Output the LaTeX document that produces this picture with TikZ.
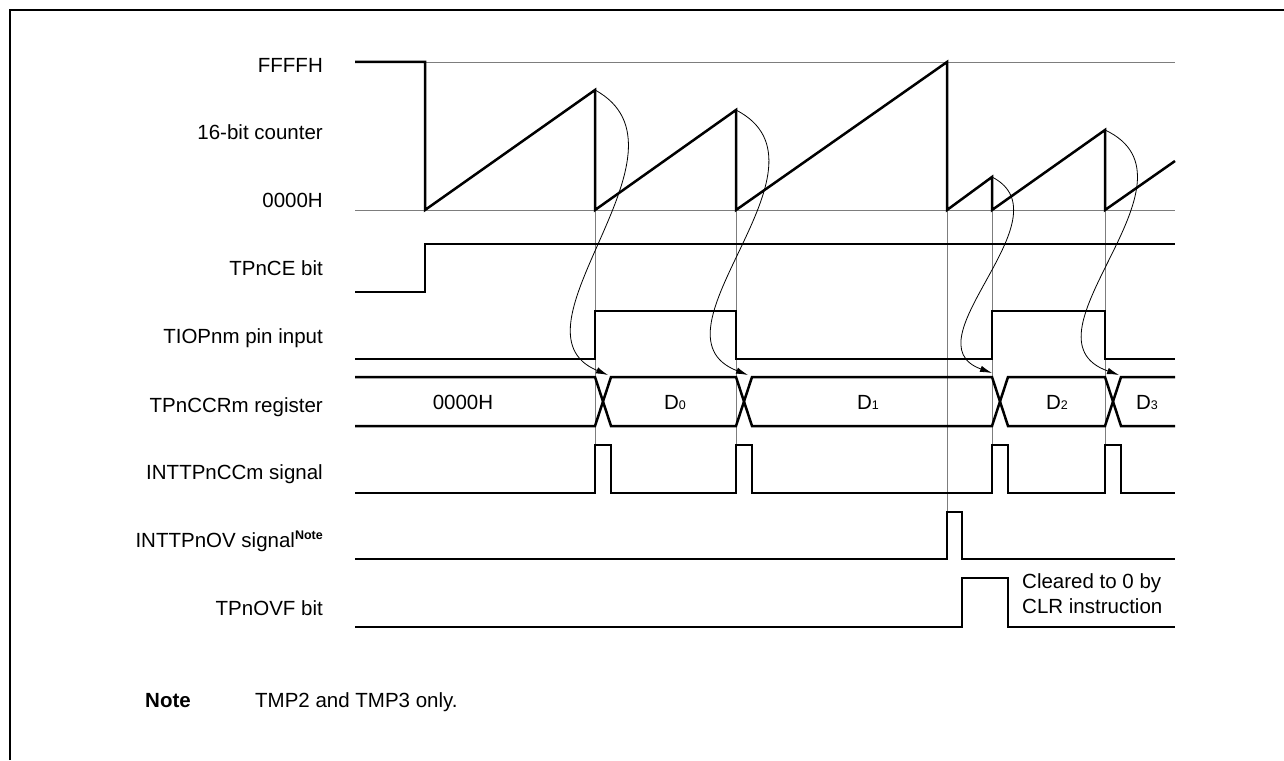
\documentclass[tikz,border=0pt]{standalone}
\usepackage{fontspec}
\setmainfont{Liberation Sans}
\usepackage{tikz}
\usetikzlibrary{arrows.meta}
\definecolor{ink}{RGB}{0,0,0}
\definecolor{rule}{RGB}{125,125,125}
\newcommand{\lblfont}{\fontsize{20.5}{24}\selectfont}
\newcommand{\dsub}[1]{{\fontsize{12.5}{13}\selectfont #1}}
\newcommand{\notemark}{\raisebox{8pt}{\fontsize{12.5}{13}\selectfont\bfseries Note}}
\tikzset{
  sig/.style      ={line width=2.5pt, color=ink, line join=miter},
  guide/.style    ={line width=0.9pt, color=rule},
  capt/.style     ={-{Latex[length=12pt,width=6.5pt]}, line width=0.8pt, color=ink},
  rowlabel/.style ={anchor=base east, font=\lblfont, inner sep=0pt},
  busval/.style   ={anchor=base, font=\lblfont, inner sep=0pt},
  notetext/.style ={anchor=base west, font=\lblfont, inner sep=0pt, align=left},
  frameline/.style={line width=2.4pt, color=ink},
}

\begin{document}
\begin{tikzpicture}[x=1pt, y=-1pt]
\useasboundingbox (0,0) rectangle (1284,760);

% frame
\draw[frameline] (10,760) -- (10,10) -- (1284,10);

% row labels
\node[rowlabel] (lffff) at (323,72)  {FFFFH};
\node[rowlabel] (lcnt)  at (323,139) {16-bit counter};
\node[rowlabel] (l0000) at (323,207) {0000H};
\node[rowlabel] (lce)   at (323,275) {TPnCE bit};
\node[rowlabel] (ltiop) at (323,343) {TIOPnm pin input};
\node[rowlabel] (lccr)  at (323,412) {TPnCCRm register};
\node[rowlabel] (lintc) at (323,479) {INTTPnCCm signal};
\node[rowlabel] (lovi)  at (323,547) {INTTPnOV signal\notemark};
\node[rowlabel] (lovf)  at (323,615) {TPnOVF bit};

% reference levels and guides
\draw[guide] (425,62) -- (1175,62);
\draw[guide] (355,210) -- (1175,210);
\foreach \gx/\gy in {595/445, 736/445, 947/512, 992/445, 1105/445}
  \draw[guide] (\gx,210) -- (\gx,\gy);

% 16-bit counter
\draw[sig] (355,62) -- (425,62) -- (425,210) -- (595,90) -- (595,210)
  -- (736,110) -- (736,210) -- (947,62) -- (947,210) -- (992,177) -- (992,210)
  -- (1105,130) -- (1105,210) -- (1175,161);

% TPnCE bit
\draw[sig] (355,292) -- (425,292) -- (425,244) -- (1175,244);

% TIOPnm pin input
\draw[sig] (355,359) -- (595,359) -- (595,311) -- (736,311) -- (736,359)
  -- (992,359) -- (992,311) -- (1105,311) -- (1105,359) -- (1175,359);

% TPnCCRm register
\draw[sig] (355,377) -- (595,377) -- (611,426) -- (736,426) -- (752,377)
  -- (992,377) -- (1008,426) -- (1105,426) -- (1121,377) -- (1175,377);
\draw[sig] (355,426) -- (595,426) -- (611,377) -- (736,377) -- (752,426)
  -- (992,426) -- (1008,377) -- (1105,377) -- (1121,426) -- (1175,426);
\node[busval] (v0) at (463,409)  {0000H};
\node[busval] (d0) at (675,409)  {D\dsub{0}};
\node[busval] (d1) at (868,409)  {D\dsub{1}};
\node[busval] (d2) at (1057,409) {D\dsub{2}};
\node[busval] (d3) at (1147,409) {D\dsub{3}};

% INTTPnCCm signal
\draw[sig] (355,493) -- (595,493) -- (595,445) -- (611,445) -- (611,493)
  -- (736,493) -- (736,445) -- (752,445) -- (752,493)
  -- (992,493) -- (992,445) -- (1008,445) -- (1008,493)
  -- (1105,493) -- (1105,445) -- (1121,445) -- (1121,493) -- (1175,493);

% INTTPnOV signal
\draw[sig] (355,559) -- (947,559) -- (947,512) -- (962,512) -- (962,559) -- (1175,559);

% TPnOVF bit
\draw[sig] (355,627) -- (962,627) -- (962,578) -- (1008,578) -- (1008,627) -- (1175,627);
\node[notetext] (clr) at (1022,588) {Cleared to 0 by};
\node[notetext] (clr2) at (1022,613) {CLR instruction};

% capture arrows
\coordinate (pk0) at (595,90);   \coordinate (tp0) at (608,375);
\coordinate (pk1) at (736,110);  \coordinate (tp1) at (748,375);
\coordinate (pk2) at (992,177);  \coordinate (tp2) at (992,373);
\coordinate (pk3) at (1105,130); \coordinate (tp3) at (1119,375);
\draw[capt] (pk0) .. controls (705,150) and (500,330) .. (tp0);
\draw[capt] (pk1) .. controls (845,166) and (640,333) .. (tp1);
\draw[capt] (pk2) .. controls (1070,217) and (906,342) .. (tp2);
\draw[capt] (pk3) .. controls (1212,180) and (1012,337) .. (tp3);

% footnote
\node[notetext, font=\lblfont\bfseries] (nt) at (145,707) {Note};
\node[notetext] (ntx) at (255,707) {TMP2 and TMP3 only.};
\end{tikzpicture}
\end{document}
